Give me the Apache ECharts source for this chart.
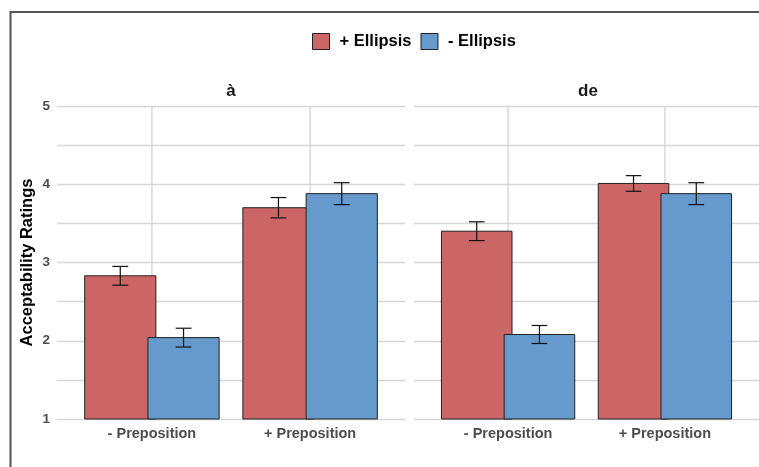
<!DOCTYPE html>
<html>
<head>
<meta charset="utf-8">
<script src="https://cdn.jsdelivr.net/npm/echarts@6/dist/echarts.min.js"></script>
<style>
html,body{margin:0;padding:0;background:#fff;}
#chart{width:759px;height:467px;}
</style>
</head>
<body>
<div id="chart"></div>
<script>
// ---- data ----
const categories = ['- Preposition', '+ Preposition'];
const panels = ['à', 'de'];
const seriesNames = ['+ Ellipsis', '- Ellipsis'];
const yTicks = [1, 2, 3, 4, 5];
// panel "à"
const plusEllipsisA = [2.83, 3.70];
const plusEllipsisASE = [0.12, 0.13];
const minusEllipsisA = [2.04, 3.88];
const minusEllipsisASE = [0.12, 0.14];
// panel "de"
const plusEllipsisDe = [3.40, 4.01];
const plusEllipsisDeSE = [0.12, 0.10];
const minusEllipsisDe = [2.08, 3.88];
const minusEllipsisDeSE = [0.115, 0.14];

// ---- style ----
const RED = '#CC6666';
const BLUE = '#6699CC';
const GRIDC = '#d6d6d6';
const FONT = '"Liberation Sans", Arial, Helvetica, sans-serif';
const YMIN = 1, YMAX = 5;
const BAR_W = 0.45, DODGE = 0.2, CAP = 0.1;

const chart = echarts.init(document.getElementById('chart'), null, {renderer: 'canvas'});

function toData(vals, ses) {
  return vals.map((v, i) => [i + 1, v, ses[i]]);
}

function barRenderer(offset, color) {
  return function (params, api) {
    const x = api.value(0), y = api.value(1);
    const p1 = api.coord([x + offset - BAR_W / 2, y]);
    const p2 = api.coord([x + offset + BAR_W / 2, YMIN]);
    return {
      type: 'rect',
      shape: {x: p1[0], y: p1[1], width: p2[0] - p1[0], height: p2[1] - p1[1]},
      style: {fill: color, stroke: '#222', lineWidth: 1}
    };
  };
}

function errRenderer(offset) {
  return function (params, api) {
    const x = api.value(0) + offset, y = api.value(1), se = api.value(2);
    const top = api.coord([x, y + se]);
    const bot = api.coord([x, y - se]);
    const l = api.coord([x - CAP / 2, y])[0];
    const r = api.coord([x + CAP / 2, y])[0];
    const st = {stroke: '#111', lineWidth: 1.2};
    return {
      type: 'group',
      children: [
        {type: 'line', shape: {x1: top[0], y1: top[1], x2: bot[0], y2: bot[1]}, style: st},
        {type: 'line', shape: {x1: l, y1: top[1], x2: r, y2: top[1]}, style: st},
        {type: 'line', shape: {x1: l, y1: bot[1], x2: r, y2: bot[1]}, style: st}
      ]
    };
  };
}

function vgridRenderer(params, api) {
  const x = api.value(0);
  const a = api.coord([x, YMAX]);
  const b = api.coord([x, YMIN]);
  return {type: 'line', shape: {x1: a[0], y1: a[1], x2: b[0], y2: b[1]}, style: {stroke: GRIDC, lineWidth: 1.4}};
}

const panelData = [
  [toData(plusEllipsisA, plusEllipsisASE), toData(minusEllipsisA, minusEllipsisASE)],
  [toData(plusEllipsisDe, plusEllipsisDeSE), toData(minusEllipsisDe, minusEllipsisDeSE)]
];

const grids = [
  {left: 57, top: 106, width: 348, height: 313},
  {left: 414, top: 106, width: 348, height: 313}
];

const xAxes = grids.map((g, i) => ({
  type: 'value', gridIndex: i, min: 0.4, max: 2.6,
  axisLine: {show: false}, axisTick: {show: false}, splitLine: {show: false},
  axisLabel: {
    customValues: categories.map((c, k) => k + 1),
    formatter: v => categories[Math.round(v) - 1] || '',
    color: '#4d4d4d', fontWeight: 'bold', fontSize: 14.5, fontFamily: FONT, margin: 7
  }
}));

const yAxes = grids.map((g, i) => ({
  type: 'value', gridIndex: i, min: YMIN, max: YMAX, interval: 0.5,
  axisLine: {show: false}, axisTick: {show: false},
  splitLine: {show: true, lineStyle: {color: GRIDC, width: 1.4}},
  axisLabel: {
    show: i === 0,
    formatter: v => (yTicks.indexOf(v) >= 0 ? String(v) : ''),
    color: '#4d4d4d', fontWeight: 'bold', fontSize: 13.5, fontFamily: FONT, margin: 7
  },
  name: i === 0 ? 'Acceptability Ratings' : '',
  nameLocation: 'middle', nameRotate: 90, nameGap: 21,
  nameTextStyle: {color: '#000', fontWeight: 'bold', fontSize: 16.5, fontFamily: FONT}
}));

const series = [];
grids.forEach((g, i) => {
  series.push({
    type: 'custom', name: 'vgrid' + i, xAxisIndex: i, yAxisIndex: i, z: 1, silent: true,
    data: categories.map((c, k) => [k + 1, YMAX]),
    renderItem: vgridRenderer
  });
  series.push({
    type: 'custom', name: seriesNames[0], xAxisIndex: i, yAxisIndex: i, z: 2,
    itemStyle: {color: RED, borderColor: '#222', borderWidth: 1},
    data: panelData[i][0], renderItem: barRenderer(-DODGE, RED)
  });
  series.push({
    type: 'custom', name: seriesNames[1], xAxisIndex: i, yAxisIndex: i, z: 3,
    itemStyle: {color: BLUE, borderColor: '#222', borderWidth: 1},
    data: panelData[i][1], renderItem: barRenderer(DODGE, BLUE)
  });
  series.push({
    type: 'custom', name: 'err+' + i, xAxisIndex: i, yAxisIndex: i, z: 4, silent: true,
    data: panelData[i][0], renderItem: errRenderer(-DODGE)
  });
  series.push({
    type: 'custom', name: 'err-' + i, xAxisIndex: i, yAxisIndex: i, z: 4, silent: true,
    data: panelData[i][1], renderItem: errRenderer(DODGE)
  });
});

const option = {
  backgroundColor: '#fff',
  animation: false,
  grid: grids,
  xAxis: xAxes,
  yAxis: yAxes,
  legend: {
    left: 312, top: 33, padding: 0, itemWidth: 17, itemHeight: 16, itemGap: 9, icon: 'rect',
    selectedMode: false,
    textStyle: {color: '#000', fontWeight: 'bold', fontSize: 16.5, fontFamily: FONT, padding: [0, 0, 0, 5]},
    data: [
      {name: seriesNames[0], itemStyle: {color: RED, borderColor: '#222', borderWidth: 1}},
      {name: seriesNames[1], itemStyle: {color: BLUE, borderColor: '#222', borderWidth: 1}}
    ]
  },
  graphic: [
    {type: 'rect', shape: {x: 10.5, y: 12, width: 780, height: 480}, style: {fill: 'none', stroke: '#555', lineWidth: 2}, silent: true, z: 100},
    {type: 'text', x: 231, y: 91, style: {text: panels[0], textAlign: 'center', textVerticalAlign: 'middle', fill: '#1a1a1a', font: 'bold 17px ' + FONT}},
    {type: 'text', x: 588, y: 91, style: {text: panels[1], textAlign: 'center', textVerticalAlign: 'middle', fill: '#1a1a1a', font: 'bold 17px ' + FONT}}
  ],
  series: series
};

chart.setOption(option);
</script>
</body>
</html>
